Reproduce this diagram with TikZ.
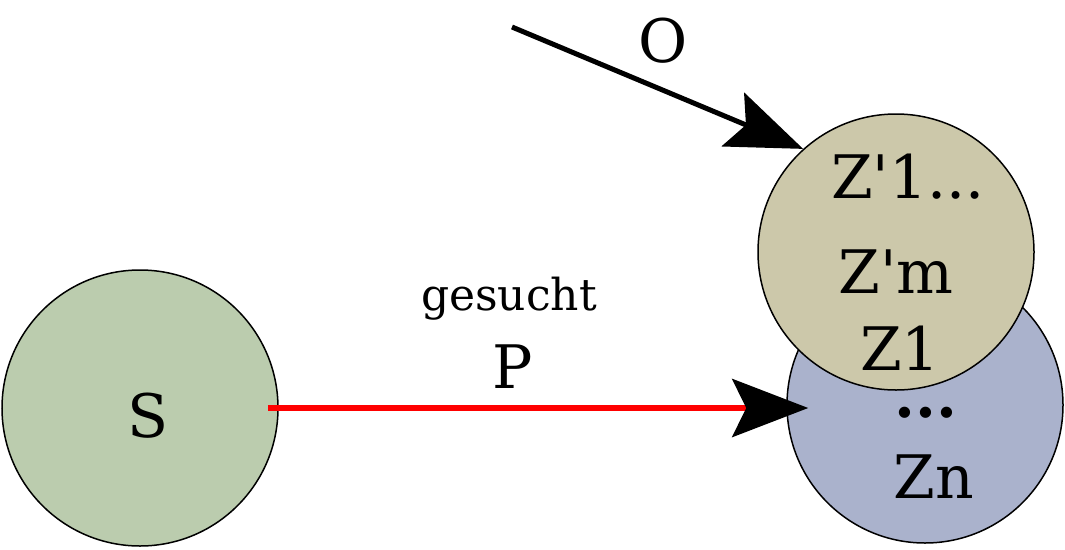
\documentclass[tikz,border=0pt]{standalone}
\usepackage{fontspec}
\setmainfont{DejaVu Serif}
\usetikzlibrary{arrows.meta,calc}
\definecolor{cgreen}{HTML}{BBCCAE}
\definecolor{ctan}{HTML}{CCC8AA}
\definecolor{cblue}{HTML}{AAB2CC}
\tikzset{
  blob/.style={circle, draw=black, line width=1.5pt, minimum size=276pt, inner sep=0pt},
  lbl/.style={anchor=base, inner sep=0pt, font=\fontsize{60}{60}\selectfont},
  small/.style={anchor=base, inner sep=0pt, font=\fontsize{44}{44}\selectfont},
  bigtip/.style={-{Stealth[length=76pt, width=58pt, inset=14pt, color=black]}},
}
\begin{document}
\begin{tikzpicture}[x=1pt,y=-1pt]
\useasboundingbox (0,0) rectangle (1065,549);
\node[blob, fill=cgreen] (S) at (140,408) {};
\node[blob, fill=cblue] (Z) at (925,405) {};
\node[blob, fill=ctan] (Zp) at (896,252) {};
\coordinate (ostart) at (512,27);
\node[lbl] (tS) at (148,437) {S};
\node[lbl] (tZ1p) at (908,198) {Z\textquotesingle 1...};
\node[lbl] (tZmp) at (896,293) {Z\textquotesingle m};
\node[lbl] (tZ1) at (900,370) {Z1};
\node[lbl] (tdots) at (926,417) {\textbf{...}};
\node[lbl] (tZn) at (934,498) {Zn};
\node[lbl] (tO) at (663,62) {O};
\node[small] (tges) at (509,310) {gesucht};
\node[lbl] (tP) at (513,388) {P};
\draw[bigtip, red, line width=6pt, shorten <=-11pt, shorten >=-22pt] (S.east) -- (S.east -| Z.west);
\draw[bigtip, black, line width=5pt] (ostart) -- (Zp.132);
\end{tikzpicture}
\end{document}
